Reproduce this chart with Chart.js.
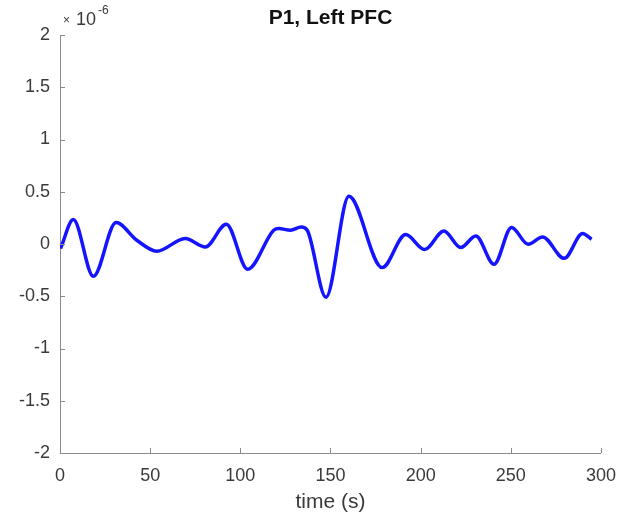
<!DOCTYPE html>
<html>
<head>
    <title>P1, Left PFC</title>
    <script src="https://cdn.jsdelivr.net/npm/chart.js"></script>
    <style>
        body { margin: 0; background: #fff; }
    </style>
</head>
<body>
    <canvas id="myChart" width="620" height="520"></canvas>
    <script>
        // time (s) and signal (x 10^-6)
        var times = [0.3, 7.4, 18.5, 31.1, 42.6, 53.7, 69.4, 80.6, 92.2, 104.1, 118.5, 121.3, 127.8, 133.7, 137.1,
                     147.5, 160.2, 178.7, 191.7, 202.2, 212.9, 222.2, 230.6, 240.7, 250.4, 259.6, 267.6, 279.6, 289.8, 294.8];
        var values = [-0.044, 0.234, -0.309, 0.205, 0.036, -0.069, 0.052, -0.028, 0.189, -0.242, 0.132, 0.148, 0.132, 0.163, 0.132,
                      -0.51, 0.457, -0.226, 0.09, -0.053, 0.125, -0.034, 0.077, -0.194, 0.158, -0.002, 0.068, -0.137, 0.1, 0.045];
        var xTicks = [0, 50, 100, 150, 200, 250, 300];
        var yTicks = [-2, -1.5, -1, -0.5, 0, 0.5, 1, 1.5, 2];

        var axisColor = '#8c8c8c';
        var labelColor = '#3a3a3a';
        var fontFamily = '"Liberation Sans", Arial, sans-serif';

        // matlab style inward ticks, title and exponent label
        var decor = {
            id: 'decor',
            afterDraw: function (chart) {
                var ctx = chart.ctx;
                var area = chart.chartArea;
                var xs = chart.scales.x, ys = chart.scales.y;
                ctx.save();
                ctx.strokeStyle = axisColor;
                ctx.lineWidth = 1;
                ctx.beginPath();
                xTicks.forEach(function (t) {
                    var px = Math.round(xs.getPixelForValue(t)) + 0.5;
                    ctx.moveTo(px, area.bottom);
                    ctx.lineTo(px, area.bottom - 5);
                });
                yTicks.forEach(function (t) {
                    var py = Math.round(ys.getPixelForValue(t)) + 0.5;
                    ctx.moveTo(area.left, py);
                    ctx.lineTo(area.left + 5, py);
                });
                ctx.stroke();

                ctx.fillStyle = '#111';
                ctx.font = 'bold 21px ' + fontFamily;
                ctx.textAlign = 'center';
                ctx.textBaseline = 'middle';
                ctx.fillText('P1, Left PFC', (area.left + area.right) / 2, 18);

                ctx.fillStyle = labelColor;
                ctx.textAlign = 'left';
                ctx.font = '12px ' + fontFamily;
                ctx.fillText('\u00d7', 63, 21);
                ctx.font = '18px ' + fontFamily;
                ctx.fillText('10', 76, 20);
                ctx.font = '12px ' + fontFamily;
                ctx.fillText('-6', 98, 11);
                ctx.restore();
            }
        };

        var ctx = document.getElementById('myChart').getContext('2d');
        var myChart = new Chart(ctx, {
            type: 'line',
            data: {
                datasets: [{
                    label: 'P1, Left PFC',
                    data: times.map(function (t, i) { return { x: t, y: values[i] }; }),
                    borderColor: 'rgb(20, 20, 255)',
                    borderWidth: 3.5,
                    pointRadius: 0,
                    cubicInterpolationMode: 'monotone',
                    fill: false
                }]
            },
            options: {
                responsive: false,
                animation: false,
                layout: { padding: { left: 0, right: 19, top: 35, bottom: 0 } },
                plugins: {
                    legend: { display: false },
                    tooltip: { enabled: false }
                },
                scales: {
                    x: {
                        type: 'linear',
                        min: 0,
                        max: 300,
                        afterBuildTicks: function (s) { s.ticks = xTicks.map(function (v) { return { value: v }; }); },
                        afterFit: function (s) { s.height = 67; },
                        grid: { display: false },
                        border: { display: true, color: axisColor, width: 1 },
                        ticks: {
                            color: labelColor,
                            padding: 4,
                            maxRotation: 0,
                            font: { family: fontFamily, size: 18 }
                        },
                        title: {
                            display: true,
                            text: 'time (s)',
                            color: labelColor,
                            font: { family: fontFamily, size: 21 },
                            padding: { top: 0, bottom: 5 }
                        }
                    },
                    y: {
                        min: -2,
                        max: 2,
                        afterBuildTicks: function (s) { s.ticks = yTicks.map(function (v) { return { value: v }; }); },
                        afterFit: function (s) { s.width = 60; },
                        grid: { display: false },
                        border: { display: true, color: axisColor, width: 1 },
                        ticks: {
                            color: labelColor,
                            padding: 2,
                            font: { family: fontFamily, size: 18 },
                            callback: function (v) { return String(v); }
                        }
                    }
                }
            },
            plugins: [decor]
        });
    </script>
</body>
</html>
